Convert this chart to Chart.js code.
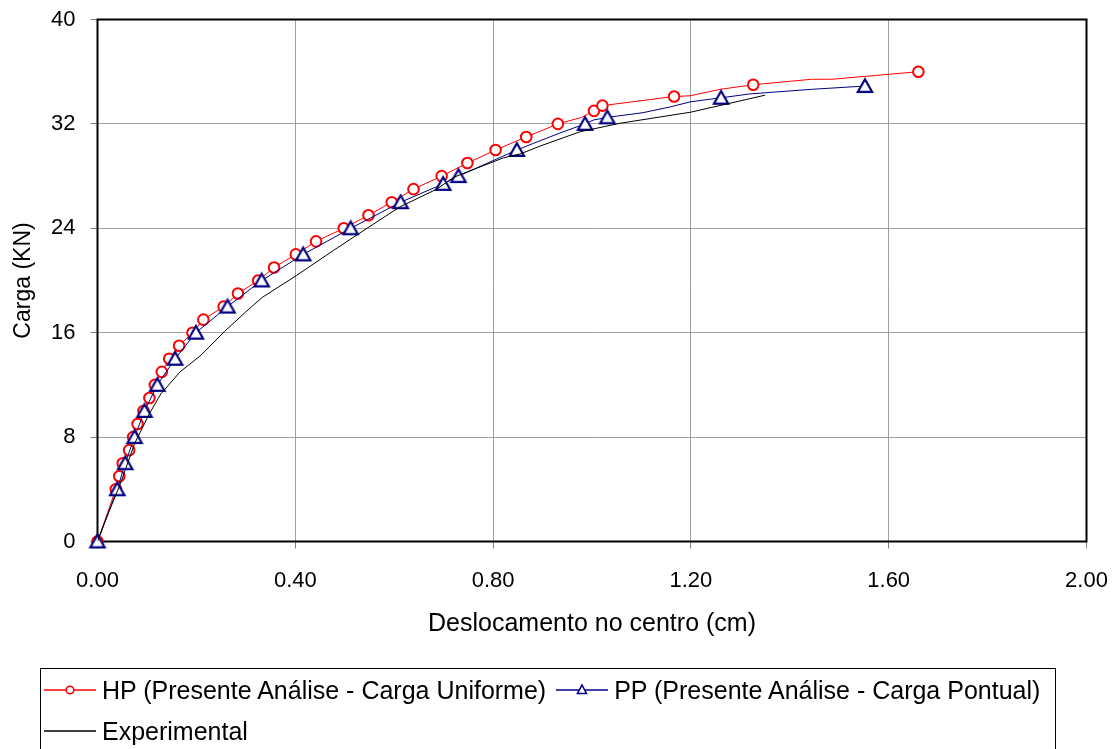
<!DOCTYPE html>
<html lang="pt">
<head>
<meta charset="utf-8">
<title>Carga x Deslocamento no centro</title>
<script src="https://cdn.jsdelivr.net/npm/chart.js@4/dist/chart.umd.min.js"></script>
<style>
  html, body { margin: 0; padding: 0; background: #fff; }
  #wrap { position: relative; width: 1118px; height: 749px; overflow: hidden; }
  #chart { position: absolute; left: 0; top: 0; }
  #legend {
    position: absolute; left: 40px; top: 668px; width: 1016px; height: 100px;
    border: 1px solid #000; box-sizing: border-box;
    font-family: "Liberation Sans", Arial, sans-serif; font-size: 25px; color: #000;
  }
  #legend .row { position: absolute; left: 2px; display: flex; align-items: center; height: 30px; white-space: nowrap; }
  #legend .item { display: flex; align-items: center; margin-right: 9px; }
  #legend svg { margin-right: 5px; }
</style>
</head>
<body>
<div id="wrap">
  <canvas id="chart" width="1118" height="749"></canvas>
  <div id="legend"></div>
</div>
<script>
// Series names
const seriesNames = [
  'HP (Presente Análise - Carga Uniforme)',
  'PP (Presente Análise - Carga Pontual)',
  'Experimental'
];

// HP: line vertices (cm, kN)
const hpLineX = [0, 0.037, 0.044, 0.051, 0.064, 0.072, 0.081, 0.093, 0.105, 0.116, 0.130, 0.145, 0.165, 0.192, 0.214, 0.255, 0.284, 0.325, 0.357, 0.401, 0.442, 0.498, 0.548, 0.595, 0.639, 0.696, 0.748, 0.805, 0.867, 0.931, 0.979, 1.004, 1.021, 1.166, 1.198, 1.259, 1.326, 1.444, 1.485, 1.660];
const hpLineY = [0, 4, 5, 6, 7, 8, 9, 10, 11, 12, 13, 14, 15, 16, 17, 18, 19, 20, 21, 22, 23, 24, 25, 26, 27, 28, 29, 30, 31, 32, 32.5, 33, 33.4, 34.1, 34.15, 34.65, 35, 35.42, 35.42, 36];
// HP: marked load steps
const hpMarkX = [0, 0.037, 0.044, 0.051, 0.064, 0.072, 0.081, 0.093, 0.105, 0.116, 0.130, 0.145, 0.165, 0.192, 0.214, 0.255, 0.284, 0.325, 0.357, 0.401, 0.442, 0.498, 0.548, 0.595, 0.639, 0.696, 0.748, 0.805, 0.867, 0.931, 1.004, 1.021, 1.166, 1.326, 1.660];
const hpMarkY = [0, 4, 5, 6, 7, 8, 9, 10, 11, 12, 13, 14, 15, 16, 17, 18, 19, 20, 21, 22, 23, 24, 25, 26, 27, 28, 29, 30, 31, 32, 33, 33.4, 34.1, 35, 36];

// PP: line vertices
const ppLineX = [0, 0.040, 0.056, 0.075, 0.095, 0.121, 0.157, 0.199, 0.263, 0.332, 0.416, 0.512, 0.613, 0.699, 0.730, 0.848, 0.881, 0.935, 0.986, 1.003, 1.031, 1.103, 1.158, 1.200, 1.261, 1.320, 1.444, 1.552];
const ppLineY = [0, 4, 6, 8, 10, 12, 14, 16, 18, 20, 22, 24, 26, 27.4, 28, 30, 30.5, 31.3, 32, 32.3, 32.5, 32.86, 33.3, 33.7, 34, 34.3, 34.65, 34.9];
// PP: marked load steps
const ppMarkX = [0, 0.040, 0.056, 0.075, 0.095, 0.121, 0.157, 0.199, 0.263, 0.332, 0.416, 0.512, 0.613, 0.699, 0.730, 0.848, 0.986, 1.031, 1.261, 1.552];
const ppMarkY = [0, 4, 6, 8, 10, 12, 14, 16, 18, 20, 22, 24, 26, 27.4, 28, 30, 32, 32.5, 34, 34.9];

// Experimental curve
const expX = [0, 0.02, 0.045, 0.075, 0.105, 0.128, 0.167, 0.21, 0.257, 0.30, 0.333, 0.403, 0.477, 0.545, 0.612, 0.686, 0.72, 0.753, 0.821, 0.855, 0.895, 0.976, 1.057, 1.20, 1.35];
const expY = [0, 2.0, 4.3, 7.5, 9.8, 11.3, 13.0, 14.3, 16.1, 17.6, 18.7, 20.4, 22.3, 24.0, 25.65, 27.0, 27.9, 28.4, 29.4, 29.7, 30.3, 31.4, 32.05, 32.9, 34.2];

// Axis ticks
const xTicks = [0, 0.4, 0.8, 1.2, 1.6, 2.0];
const yTicks = [0, 8, 16, 24, 32, 40];

const FONT = '"Liberation Sans", Arial, sans-serif';
const RED = '#ff0000', NAVY = '#000080', BLACK = '#000000';

const toPoints = (xs, ys) => xs.map((x, i) => ({ x, y: ys[i] }));

// Open triangle marker, drawn on its own small canvas
function triangleMarker(size, lw, color) {
  const c = document.createElement('canvas');
  c.width = size; c.height = size;
  const g = c.getContext('2d');
  const m = size / 2, h = size * 0.34;
  g.beginPath();
  g.moveTo(m, m - h);
  g.lineTo(m + h * 1.05, m + h * 0.85);
  g.lineTo(m - h * 1.05, m + h * 0.85);
  g.closePath();
  g.fillStyle = '#fff'; g.fill();
  g.lineWidth = lw; g.strokeStyle = color; g.lineJoin = 'miter'; g.stroke();
  return c;
}
const triImg = triangleMarker(20, 2.2, NAVY);

// Plot-area frame, drawn beneath the series
const framePlugin = {
  id: 'frame',
  beforeDatasetsDraw(chart) {
    const { ctx, chartArea: a } = chart;
    ctx.save();
    ctx.strokeStyle = '#000';
    ctx.lineWidth = 2;
    ctx.strokeRect(a.left, a.top, a.right - a.left, a.bottom - a.top);
    ctx.restore();
  }
};

const chart = new Chart(document.getElementById('chart'), {
  type: 'scatter',
  data: {
    datasets: [
      { label: seriesNames[0], data: toPoints(hpLineX, hpLineY), showLine: true, borderColor: RED, borderWidth: 1, pointRadius: 0, order: 6 },
      { label: seriesNames[0], data: toPoints(hpMarkX, hpMarkY), showLine: false, pointStyle: 'circle', pointRadius: 5.3, pointBorderWidth: 2, pointBorderColor: RED, pointBackgroundColor: '#fff', clip: false, order: 5 },
      { label: seriesNames[1], data: toPoints(ppLineX, ppLineY), showLine: true, borderColor: NAVY, borderWidth: 1, pointRadius: 0, order: 4 },
      { label: seriesNames[1], data: toPoints(ppMarkX, ppMarkY), showLine: false, pointStyle: triImg, pointRadius: 7, clip: false, order: 3 },
      { label: seriesNames[2], data: toPoints(expX, expY), showLine: true, borderColor: BLACK, borderWidth: 1, pointRadius: 0, order: 1 }
    ]
  },
  options: {
    responsive: false,
    animation: false,
    devicePixelRatio: 1,
    events: [],
    layout: { padding: { left: 0, top: 19.5, right: 31.5, bottom: 89 } },
    plugins: { legend: { display: false }, tooltip: { enabled: false } },
    scales: {
      x: {
        type: 'linear', min: 0, max: 2,
        afterBuildTicks: s => { s.ticks = xTicks.map(v => ({ value: v })); },
        // fixed axis band; label overhang is covered by the layout padding
        afterFit: s => { s.height = 118.5; s.paddingLeft = 0; s.paddingRight = 0; },
        ticks: { callback: v => Number(v).toFixed(2), color: '#000', font: { family: FONT, size: 22 }, padding: 19, maxRotation: 0 },
        grid: { color: '#a0a0a0', lineWidth: 1, tickLength: 7, tickColor: '#808080' },
        border: { display: false },
        title: { display: true, text: 'Deslocamento no centro (cm)', color: '#000', font: { family: FONT, size: 25 }, padding: { top: 0, bottom: 21 } }
      },
      y: {
        type: 'linear', min: 0, max: 40,
        afterBuildTicks: s => { s.ticks = yTicks.map(v => ({ value: v })); },
        afterFit: s => { s.width = 97.5; s.paddingTop = 0; s.paddingBottom = 0; },
        ticks: { callback: v => String(v), color: '#000', font: { family: FONT, size: 22 }, padding: 15 },
        grid: { color: '#a0a0a0', lineWidth: 1, tickLength: 7, tickColor: '#808080' },
        border: { display: false },
        title: { display: true, text: 'Carga (KN)', color: '#000', font: { family: FONT, size: 23 }, padding: { top: 10, bottom: 0 } }
      }
    }
  },
  plugins: [framePlugin]
});

// Legend built from the series names
(function buildLegend() {
  const svgNS = 'http://www.w3.org/2000/svg';
  const legend = document.getElementById('legend');
  const sample = (color, marker) => {
    const svg = document.createElementNS(svgNS, 'svg');
    svg.setAttribute('width', '54'); svg.setAttribute('height', '20');
    const line = document.createElementNS(svgNS, 'line');
    line.setAttribute('x1', '1'); line.setAttribute('x2', '53');
    line.setAttribute('y1', '10'); line.setAttribute('y2', '10');
    line.setAttribute('stroke', color); line.setAttribute('stroke-width', '1.3');
    svg.appendChild(line);
    if (marker === 'circle') {
      const c = document.createElementNS(svgNS, 'circle');
      c.setAttribute('cx', '27'); c.setAttribute('cy', '10'); c.setAttribute('r', '3.8');
      c.setAttribute('fill', '#fff'); c.setAttribute('stroke', color); c.setAttribute('stroke-width', '1.6');
      svg.appendChild(c);
    } else if (marker === 'triangle') {
      const p = document.createElementNS(svgNS, 'polygon');
      p.setAttribute('points', '27,5 31.5,13.5 22.5,13.5');
      p.setAttribute('fill', '#fff'); p.setAttribute('stroke', color); p.setAttribute('stroke-width', '1.6');
      svg.appendChild(p);
    }
    return svg;
  };
  const item = (name, color, marker) => {
    const span = document.createElement('span');
    span.className = 'item';
    span.appendChild(sample(color, marker));
    const t = document.createElement('span');
    t.textContent = name;
    span.appendChild(t);
    return span;
  };
  const row1 = document.createElement('div');
  row1.className = 'row'; row1.style.top = '6px';
  row1.appendChild(item(seriesNames[0], RED, 'circle'));
  row1.appendChild(item(seriesNames[1], NAVY, 'triangle'));
  const row2 = document.createElement('div');
  row2.className = 'row'; row2.style.top = '47px';
  row2.appendChild(item(seriesNames[2], BLACK, null));
  legend.appendChild(row1);
  legend.appendChild(row2);
})();
</script>
</body>
</html>
